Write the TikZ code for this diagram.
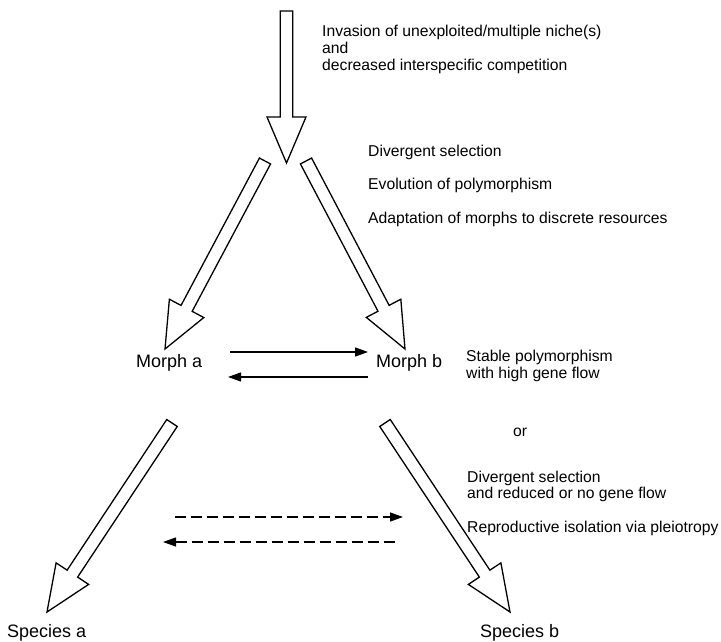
\documentclass[tikz,border=0pt]{standalone}
\usepackage{fontspec}
\setmainfont{Liberation Sans}
\usetikzlibrary{calc,arrows.meta}
\newcommand{\myblockarrow}[3]{% #1 name, #2 tail, #3 tip
  \coordinate (#1-b) at ($(#3)!46pt!(#2)$);
  \draw[blk] ($(#2)!6.3pt!90:(#3)$) -- ($(#1-b)!6.3pt!90:(#3)$) -- ($(#1-b)!19.5pt!90:(#3)$) -- (#3)
    -- ($(#1-b)!19.5pt!-90:(#3)$) -- ($(#1-b)!6.3pt!-90:(#3)$) -- ($(#2)!6.3pt!-90:(#3)$) -- cycle;
}
\begin{document}
\begin{tikzpicture}[x=1pt,y=-1pt,
  blk/.style={draw=black,line width=1.3pt,fill=white,line join=miter},
  lbl/.style={inner sep=0pt,anchor=base west,font=\fontsize{15.7}{18}\selectfont},
  big/.style={inner sep=0pt,anchor=base west,font=\fontsize{18}{21}\selectfont},
  solidarr/.style={line width=1.6pt,-{Triangle[length=13pt,width=9pt]}},
  dasharr/.style={line width=1.3pt,dash pattern=on 11pt off 5pt,-{Triangle[length=13pt,width=9pt]}}]
\useasboundingbox (0,0) rectangle (721,642);
% block arrows
\coordinate (topTail) at (286.5,11);
\coordinate (topTip) at (286.5,163);
\coordinate (ulTail) at (265,161);
\coordinate (ulTip) at (165,349);
\coordinate (urTail) at (306,161);
\coordinate (urTip) at (405,349);
\coordinate (llTail) at (172,423);
\coordinate (llTip) at (47,612);
\coordinate (lrTail) at (385,423);
\coordinate (lrTip) at (510,612);
\myblockarrow{top}{topTail}{topTip}
\myblockarrow{ul}{ulTail}{ulTip}
\myblockarrow{ur}{urTail}{urTip}
\myblockarrow{ll}{llTail}{llTip}
\myblockarrow{lr}{lrTail}{lrTip}
% texts
\node[lbl] (t1) at (322,37) {Invasion of unexploited/multiple niche(s)};
\node[lbl] (t2) at (322,54) {and};
\node[lbl] (t3) at (322,71) {decreased interspecific competition};
\node[lbl] (d1) at (368,156.5) {Divergent selection};
\node[lbl] (d2) at (368,189.5) {Evolution of polymorphism};
\node[lbl] (d3) at (368,223.5) {Adaptation of morphs to discrete resources};
\node[big] (ma) at (136,367) {Morph a};
\node[big] (mb) at (376,367) {Morph b};
\node[lbl] (s1) at (466,361.5) {Stable polymorphism};
\node[lbl] (s2) at (466,378) {with high gene flow};
\node[lbl] (or) at (513,436) {or};
\node[lbl] (r1) at (467,482) {Divergent selection};
\node[lbl] (r2) at (467,498) {and reduced or no gene flow};
\node[lbl] (r3) at (467,532) {Reproductive isolation via pleiotropy};
\node[big] (sa) at (7,637) {Species a};
\node[big] (sb) at (480,637) {Species b};
% gene flow arrows
\coordinate (g1s) at (230,352);
\coordinate (g1e) at (368,352);
\coordinate (g2s) at (368,377);
\coordinate (g2e) at (228,377);
\draw[solidarr] (g1s) -- (g1e);
\draw[solidarr,line width=1.2pt] (g2s) -- (g2e);
\coordinate (h1s) at (175,517);
\coordinate (h1e) at (403,517);
\coordinate (h2s) at (395,542);
\coordinate (h2e) at (163,542);
\draw[dasharr] (h1s) -- (h1e);
\draw[dasharr] (h2s) -- (h2e);
\end{tikzpicture}
\end{document}
